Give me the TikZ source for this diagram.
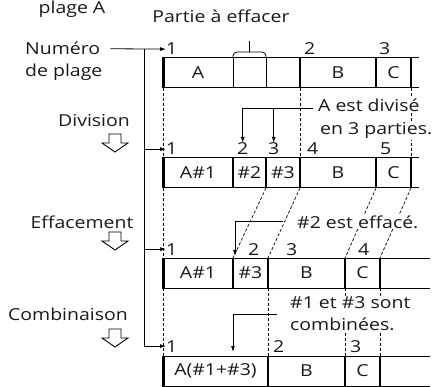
\documentclass[tikz,border=0pt]{standalone}
\usepackage{fontspec}
\setmainfont{Open Sans}[FakeStretch=1.18]
\usetikzlibrary{positioning,arrows.meta}

\begin{document}
\begin{tikzpicture}[x=1pt, y=-1pt,
  txt/.style={font=\fontsize{16.5}{22}\selectfont, inner sep=0pt, text=black!90},
  num/.style={txt, anchor=base west},
  stage/.style={txt, anchor=base},
  note/.style={txt, anchor=base west, fill=white, inner sep=1pt},
  tape/.style={line width=1pt},
  edge/.style={line width=2pt},
  first/.style={line width=3pt},
  thin/.style={line width=0.8pt},
  guide/.style={dash pattern=on 3pt off 2pt, line width=0.7pt},
  arr/.style={-{Latex[length=6pt,width=4pt]}, line width=0.8pt},
  hollow/.style={line width=0.9pt, fill=white},
]
\useasboundingbox (0,0) rectangle (433,387);

% ---- Left column: what happens at each step ----
\node[stage] (plage) at (72,14) {plage A};
\node[num] (numA) at (25,55) {Numéro};
\node[num] (numB) at (25,77) {de plage};
\node[stage] (stepdiv) at (94,127) {Division};
\node[stage] (stepeff) at (82,228) {Effacement};
\node[stage] (stepcomb) at (68,320) {Combinaison};

\foreach \yy in {143,241,338}
  \draw[hollow] (115,\yy) ++(-6,-9) -- ++(12,0) -- ++(0,9) -- ++(7,0)
    -- ++(-13,9) -- ++(-13,-9) -- ++(7,0) -- cycle;

% ---- Dashed guides between the rows ----
\draw[guide] (163,88) -- (163,158) (163,188) -- (163,258) (163,288) -- (163,356);
\draw[guide] (300,88) -- (300,158) (411,88) -- (411,158);
\draw[guide] (266,188) -- (233,258) (300,188) -- (268,258)
             (376,188) -- (345,258) (411,188) -- (380,258);
\draw[guide] (268,288) -- (268,356) (345,288) -- (345,356) (380,288) -- (380,356);

% ---- Row 1: plage A before editing ----
\draw[tape] (163,58) -- (419,58) (163,88) -- (419,88);
\draw[first] (163,57.5) -- (163,88.5);
\draw[thin] (233,58) -- (233,88) (266,58) -- (266,88);
\draw[edge] (300,58) -- (300,88) (376,58) -- (376,88) (411,58) -- (411,88);
\node[txt] (r1a) at (198,73) {A};
\node[txt] (r1b) at (338,73) {B};
\node[txt] (r1c) at (393.5,73) {C};
\node[num] (r1n1) at (166,55) {1};
\node[num] (r1n2) at (304,55) {2};
\node[num] (r1n3) at (379,55) {3};

\draw[thin, rounded corners=4pt] (233,58) -- (233,52) -- (266,52) -- (266,58);
\draw[thin] (249.5,52) -- (249.5,41);
\node[stage] (erase) at (221,23) {Partie à effacer};

% ---- Row 2: after Division ----
\draw[tape] (163,158) -- (419,158) (163,188) -- (419,188);
\draw[first] (163,157.5) -- (163,188.5);
\draw[edge] (233,158) -- (233,188) (266,158) -- (266,188) (300,158) -- (300,188)
            (376,158) -- (376,188) (411,158) -- (411,188);
\node[txt] (r2a) at (198,173) {A\#1};
\node[txt] (r2p2) at (249.5,173) {\#2};
\node[txt] (r2p3) at (283,173) {\#3};
\node[txt] (r2b) at (338,173) {B};
\node[txt] (r2c) at (393.5,173) {C};
\node[num] (r2n1) at (166,155) {1};
\node[num] (r2n2) at (237,155) {2};
\node[num] (r2n3) at (268,155) {3};
\node[num] (r2n4) at (307,155) {4};
\node[num] (r2n5) at (380,155) {5};

% ---- Row 3: after Effacement ----
\draw[tape] (163,258) -- (430,258) (163,288) -- (430,288);
\draw[first] (163,257.5) -- (163,288.5);
\draw[edge] (233,258) -- (233,288) (268,258) -- (268,288) (345,258) -- (345,288)
            (380,258) -- (380,288);
\node[txt] (r3a) at (198,273) {A\#1};
\node[txt] (r3p3) at (250.5,273) {\#3};
\node[txt] (r3b) at (306.5,273) {B};
\node[txt] (r3c) at (362.5,273) {C};
\node[num] (r3n1) at (166,255) {1};
\node[num] (r3n2) at (248,255) {2};
\node[num] (r3n3) at (286,255) {3};
\node[num] (r3n4) at (358,255) {4};
\coordinate (r3tip) at (235,256);

% ---- Row 4: after Combinaison ----
\draw[tape] (163,356) -- (430,356) (163,386.5) -- (430,386.5);
\draw[first] (163,355.5) -- (163,387);
\draw[edge] (268,356) -- (268,387) (345,356) -- (345,387) (380,356) -- (380,387);
\node[txt] (r4a) at (215.5,371) {A(\#1+\#3)};
\node[txt] (r4b) at (306.5,371) {B};
\node[txt] (r4c) at (362.5,371) {C};
\node[num] (r4n1) at (166,352) {1};
\node[num] (r4n2) at (273,352) {2};
\node[num] (r4n3) at (350,352) {3};
\coordinate (r4tip) at (233,352);

% ---- Notes ----
\node[note] (div1) at (317,112) {A est divisé};
\node[note] (div2) at (319,135) {en 3 parties.};
\node[note] (eff) at (296,228) {\#2 est effacé.};
\node[note, align=left, anchor=west] (comb) at (289,314) {\#1 et \#3 sont\\combinées.};

% ---- Connectors ----
\draw[arr] (numA.east) ++(10,0) -- (r1n1.west);
\coordinate (bus) at (144,49);
\draw[arr] (bus) |- (r4n1.west);
\draw[arr] (bus |- r2n1.west) -- (r2n1.west);
\draw[arr] (bus |- r3n1.west) -- (r3n1.west);

\coordinate (divline) at ([yshift=-3pt]div1.west);
\draw[arr, shorten <=4pt] (divline) -| (r2n2.north);
\draw[arr] (r2n3.north |- divline) -- (r2n3.north);
\draw[arr, shorten <=13pt] (eff.west) -| (r3tip);
\draw[arr, shorten <=12pt] (comb.west) -| (r4tip);

\end{tikzpicture}
\end{document}
